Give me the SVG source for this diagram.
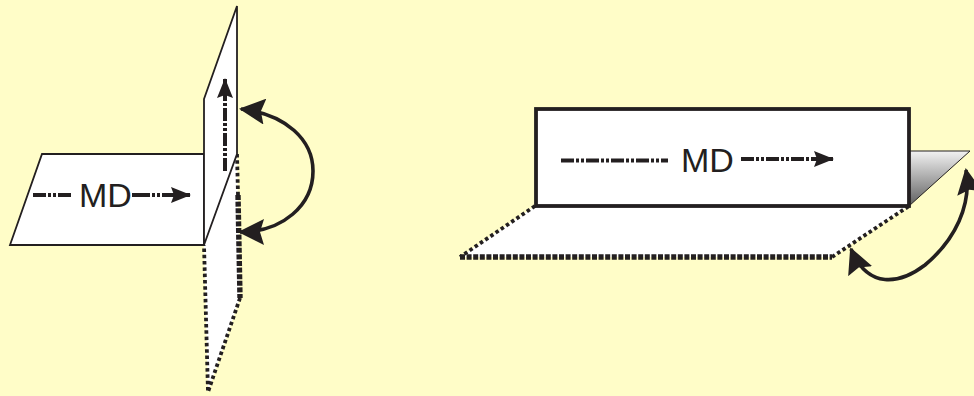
<svg xmlns="http://www.w3.org/2000/svg" width="974" height="396" viewBox="0 0 974 396">
<style>
.plane{fill:#fff;stroke:#231f20;stroke-width:1.8;stroke-linejoin:miter}
.dot{fill:none;stroke:#231f20;stroke-width:3.8;stroke-dasharray:3.500 2.800}
.dot2{fill:none;stroke:#231f20;stroke-width:5.4;stroke-dasharray:5 1.600}
.dd{fill:none;stroke:#231f20;stroke-width:4;stroke-dasharray:13 2 3 2 3 2}
.arc{fill:none;stroke:#231f20;stroke-width:3.6}
.head{fill:#231f20}
.md{font-family:"Liberation Sans",Arial,sans-serif;font-size:34px;fill:#231f20}
</style>
<defs>
<linearGradient id="g" x1="0" y1="0" x2="0" y2="1"><stop offset="0" stop-color="#f2f2f2"/><stop offset="1" stop-color="#5f5f5f"/></linearGradient>
<marker id="tri" markerUnits="userSpaceOnUse" viewBox="0 0 20 16" refX="19" refY="8" markerWidth="20" markerHeight="16" orient="auto"><path class="head" d="M0 0L20 8L0 16L3 8Z"/></marker>
<marker id="big" markerUnits="userSpaceOnUse" viewBox="0 0 26 26" refX="24" refY="13" markerWidth="26" markerHeight="26" orient="auto-start-reverse"><path class="head" d="M0 0L26 13L0 26L4 13Z"/></marker>
</defs>
<rect width="974" height="396" fill="#fffdc8"/>
<g id="left-lower-plane">
<path d="M237 154L240 298L208 392L204 245Z" fill="#fff"/>
<path class="dot" d="M240 298L208 392L204 245"/>
<path class="dot2" d="M238 195L240 298"/>
<path class="dot" d="M237 154L238 195"/>
</g>
<g id="left-horizontal-plane">
<path class="plane" d="M42 154H204V245H10Z"/>
<text class="md" x="79" y="207">MD</text>
</g>
<g id="left-vertical-plane">
<path class="plane" d="M204 99L237 6V154L204 245Z"/>
</g>
<g id="right-lower-plane">
<path d="M535 206L460 257H832L909 206Z" fill="#fff"/>
<path class="dot" d="M535 206L460 257"/>
<path class="dot" d="M832 257L909 206"/>
<path class="dot2" d="M460 257H832"/>
</g>
<g id="right-triangle">
<path d="M909 151H970L909 206Z" fill="url(#g)" stroke="#231f20" stroke-width="1"/>
</g>
<g id="right-upper-plane">
<rect x="536" y="109" width="373" height="97" fill="#fff" stroke="#231f20" stroke-width="3.8"/>
<text class="md" x="681" y="172">MD</text>
</g>
<g id="connectors">
<path class="dd" d="M33 195H71"/>
<path class="dd" d="M132 195H172" style="stroke-dasharray:18 2 3 2 3 2"/>
<path d="M170 195H190" stroke="#231f20" stroke-width="4" marker-end="url(#tri)"/>
<path class="dd" d="M225 171V95"/>
<path d="M225 100V79" stroke="#231f20" stroke-width="4" marker-end="url(#tri)"/>
<path class="dd" d="M561 160.500H668"/>
<path class="dd" d="M741 159H815"/>
<path d="M812 159H833" stroke="#231f20" stroke-width="4" marker-end="url(#tri)"/>
<path class="arc" d="M241 109C286 114 313 140 313 171C313 205 283 232 240 232" marker-start="url(#big)" marker-end="url(#big)"/>
<path class="arc" d="M966 170C972 205 955 240 925 265C900 284 868 290 851 249" marker-start="url(#big)" marker-end="url(#big)"/>
</g>
</svg>
